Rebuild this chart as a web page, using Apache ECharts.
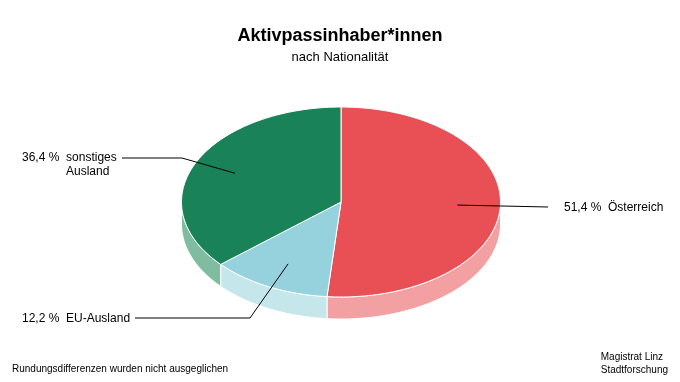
<!DOCTYPE html>
<html><head><meta charset="utf-8">
<script src="https://cdn.jsdelivr.net/npm/echarts@6/dist/echarts.min.js"></script>
<style>html,body{margin:0;padding:0;background:#fff}#c{width:680px;height:382px}</style>
</head><body><div id="c"></div>
<script>
const categories = ['Österreich', 'EU-Ausland', 'sonstiges Ausland'];
const nameLines = [['Österreich'], ['EU-Ausland'], ['sonstiges', 'Ausland']];
const values = [51.4, 12.2, 36.4];
const topColors = ['#E85055', '#96D2DE', '#1A8258'];
const sideColors = ['#F3A0A2', '#C5E6EB', '#80BDA0'];

// layout constants
const CX = 341, CY = 202, RX = 159.5, RY = 95, DEPTH = 22;
const labelLayout = [
  {elbow: [548, 207], textX: 564, textY: 208, align: 'left'},
  {elbow: [250, 318], end: [135, 318], textX: 22, textY: 319, align: 'left'},
  {elbow: [182, 158], end: [122, 158], textX: 22, textY: 158, align: 'left'}
];

const total = values.reduce((a, b) => a + b, 0);
function pt(theta, dy) {
  const r = theta * Math.PI / 180;
  return [CX + RX * Math.sin(r), CY - RY * Math.cos(r) + (dy || 0)];
}
function arc(a0, a1, dy) {
  const pts = [];
  const n = Math.max(2, Math.ceil(Math.abs(a1 - a0) / 1.5));
  for (let i = 0; i <= n; i++) pts.push(pt(a0 + (a1 - a0) * i / n, dy));
  return pts;
}
function fmt(v) { return v.toFixed(1).replace('.', ',') + ' %'; }

const chart = echarts.init(document.getElementById('c'), null, {renderer: 'canvas'});
chart.setOption({
  backgroundColor: '#fff',
  animation: false,
  title: {
    text: 'Aktivpassinhaber*innen',
    subtext: 'nach Nationalität',
    left: 'center', top: 22, itemGap: 6,
    textStyle: {fontFamily: 'Liberation Sans', fontSize: 18, fontWeight: 'bold', color: '#000'},
    subtextStyle: {fontFamily: 'Liberation Sans', fontSize: 13, color: '#000'}
  },
  graphic: [
    {type: 'text', left: 12, top: 364, style: {text: 'Rundungsdifferenzen wurden nicht ausgeglichen', font: '10px "Liberation Sans"', fill: '#000'}},
    {type: 'text', right: 12, top: 351, style: {text: 'Magistrat Linz\nStadtforschung', font: '10px "Liberation Sans"', fill: '#000', align: 'right', lineHeight: 13}}
  ],
  series: [{
    type: 'custom',
    coordinateSystem: 'none',
    data: values.map((v, i) => ({value: v, name: categories[i]})),
    renderItem: function (params, api) {
      const i = params.dataIndex;
      let start = 0;
      for (let k = 0; k < i; k++) start += values[k] / total * 360;
      const end = start + values[i] / total * 360;
      const children = [];
      // side wall (front half: 90..270)
      const s0 = Math.max(start, 90), s1 = Math.min(end, 270);
      if (s1 > s0) {
        const topArc = arc(s0, s1, 0);
        const botArc = arc(s1, s0, DEPTH);
        children.push({type: 'polygon', z2: 1, shape: {points: topArc.concat(botArc)},
          style: {fill: sideColors[i], stroke: '#fff', lineWidth: 1}});
      }
      // top face
      const pts = [[CX, CY]].concat(arc(start, end, 0));
      children.push({type: 'polygon', z2: 2, shape: {points: pts},
        style: {fill: topColors[i], stroke: '#fff', lineWidth: 1}});
      // leader line
      const mid = (start + end) / 2;
      const r = mid * Math.PI / 180;
      const anchor = [CX + 0.73 * RX * Math.sin(r), CY - 0.73 * RY * Math.cos(r)];
      const L = labelLayout[i];
      const linePts = [anchor, L.elbow];
      if (L.end) linePts.push(L.end);
      children.push({type: 'polyline', z2: 5, shape: {points: linePts},
        style: {stroke: '#000', lineWidth: 1, fill: null}});
      const txt = fmt(values[i]) + '  ' + nameLines[i][0];
      children.push({type: 'text', z2: 6, x: L.textX, y: L.textY,
        style: {text: txt, font: '12px "Liberation Sans"', fill: '#000', align: 'left', verticalAlign: 'middle'}});
      if (nameLines[i].length > 1) {
        const pre = fmt(values[i]) + '  ';
        const w = echarts.format.getTextRect ? echarts.format.getTextRect(pre, '12px "Liberation Sans"').width : 44;
        children.push({type: 'text', z2: 6, x: L.textX + w, y: L.textY + 14,
          style: {text: nameLines[i][1], font: '12px "Liberation Sans"', fill: '#000', align: 'left', verticalAlign: 'middle'}});
      }
      return {type: 'group', children: children};
    }
  }]
});
</script></body></html>
